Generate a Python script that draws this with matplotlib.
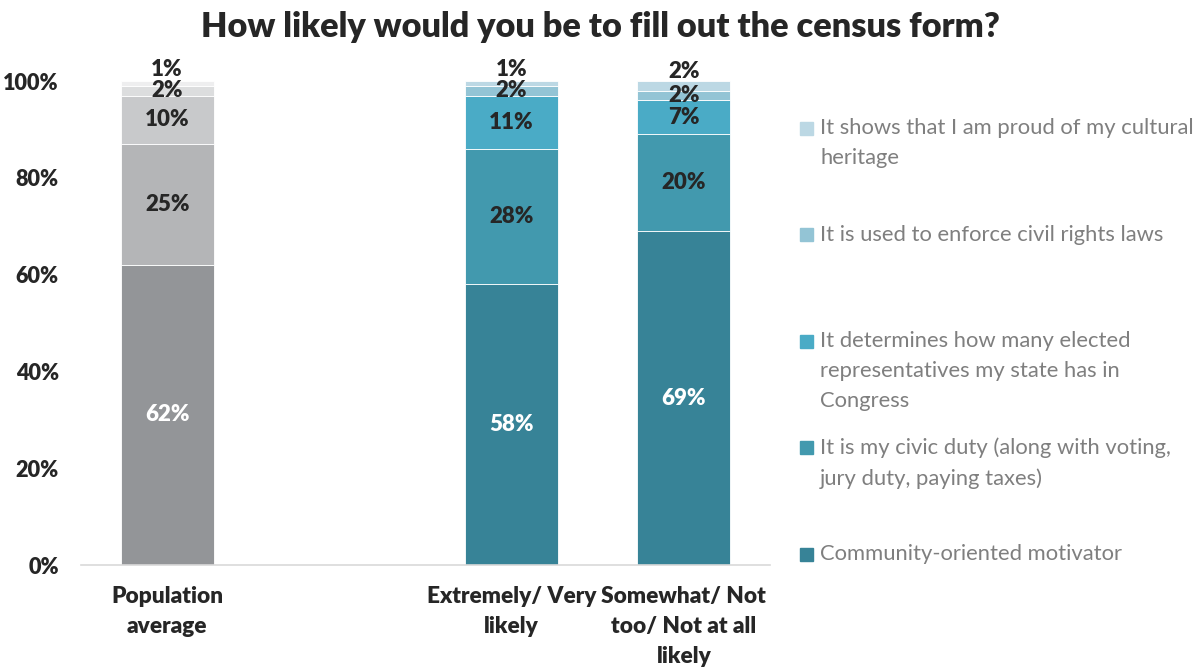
import matplotlib
matplotlib.use("Agg")
import matplotlib.pyplot as plt
from matplotlib.patches import Rectangle
import numpy as np

plt.rcParams['font.family'] = ['Lato', 'DejaVu Sans']

categories = ["Population\naverage", "", "Extremely/ Very\nlikely", "Somewhat/ Not\ntoo/ Not at all\nlikely"]
series_names = [
    "Community-oriented motivator",
    "It is my civic duty (along with voting,\njury duty, paying taxes)",
    "It determines how many elected\nrepresentatives my state has in\nCongress",
    "It is used to enforce civil rights laws",
    "It shows that I am proud of my cultural\nheritage",
]
# values per series for [Population average, (gap), Extremely/Very, Somewhat/Not]
community = [62, 0, 58, 69]
civic = [25, 0, 28, 20]
representatives = [10, 0, 11, 7]
civil_rights = [2, 0, 2, 2]
heritage = [1, 0, 1, 2]
series_values = [community, civic, representatives, civil_rights, heritage]

gray_colors = ["#939598", "#b4b5b7", "#c8c9cb", "#dcddde", "#eeeeef"]
teal_colors = ["#378397", "#4299ae", "#4aabc6", "#93c4d5", "#bcd8e4"]
label_colors = ["white", "#262626", "#262626", "#262626", "#262626"]

fig = plt.figure(figsize=(12.04, 6.67), dpi=100)
ax = fig.add_axes([81/1204, 1-565/667, (770-81)/1204, (565-81)/667])

x = np.arange(len(categories))
width = 0.54
bottoms = np.zeros(len(categories))
n = len(series_values)
for i, vals in enumerate(series_values):
    vals = np.array(vals, dtype=float)
    cols = [gray_colors[i] if j == 0 else teal_colors[i] for j in range(len(categories))]
    ax.bar(x, vals, width, bottom=bottoms, color=cols, edgecolor='white', linewidth=0.6)
    for j in range(len(categories)):
        if vals[j] <= 0:
            continue
        yc = bottoms[j] + vals[j] / 2
        dy = 10 if i == n - 1 else 0
        ax.annotate(f"{int(vals[j])}%", (x[j], yc), xytext=(0, dy), textcoords='offset points',
                    ha='center', va='center', fontsize=16, fontweight='heavy',
                    color=label_colors[i])
    bottoms += vals

ax.set_xlim(-0.5, 3.5)
ax.set_ylim(0, 100)
ax.set_yticks([0, 20, 40, 60, 80, 100])
ax.set_yticklabels([f"{v}%" for v in [0, 20, 40, 60, 80, 100]], fontsize=15.6,
                   fontweight='heavy', color='#262626')
ax.set_xticks(x)
ax.set_xticklabels(categories, fontsize=16.3, fontweight='heavy', color='#262626',
                   linespacing=1.54, va='top')
ax.tick_params(axis='both', length=0)
ax.tick_params(axis='y', pad=16)
ax.tick_params(axis='x', pad=15)
for s in ['top', 'right', 'left']:
    ax.spines[s].set_visible(False)
ax.spines['bottom'].set_color('#d9d9d9')
ax.spines['bottom'].set_linewidth(1.2)

fig.text(600/1204, 1-27/667, "How likely would you be to fill out the census form?",
         ha='center', va='center', fontsize=24.7, fontweight='heavy', color='#262626')

# legend (manual, top-to-bottom reverse order)
legend_y = [128, 235, 341, 447, 554]  # first-line centers in px
for k, idx in enumerate(range(n - 1, -1, -1)):
    yy = 1 - legend_y[k] / 667
    fig.patches.append(Rectangle((800/1204, yy - 6.5/667), 13/1204, 13/667,
                                 transform=fig.transFigure, color=teal_colors[idx]))
    fig.text(820/1204, yy + 10/667, series_names[idx], ha='left', va='top',
             fontsize=15.8, color='#7f7f7f', linespacing=1.64)

fig.savefig("out.png", dpi=100)
